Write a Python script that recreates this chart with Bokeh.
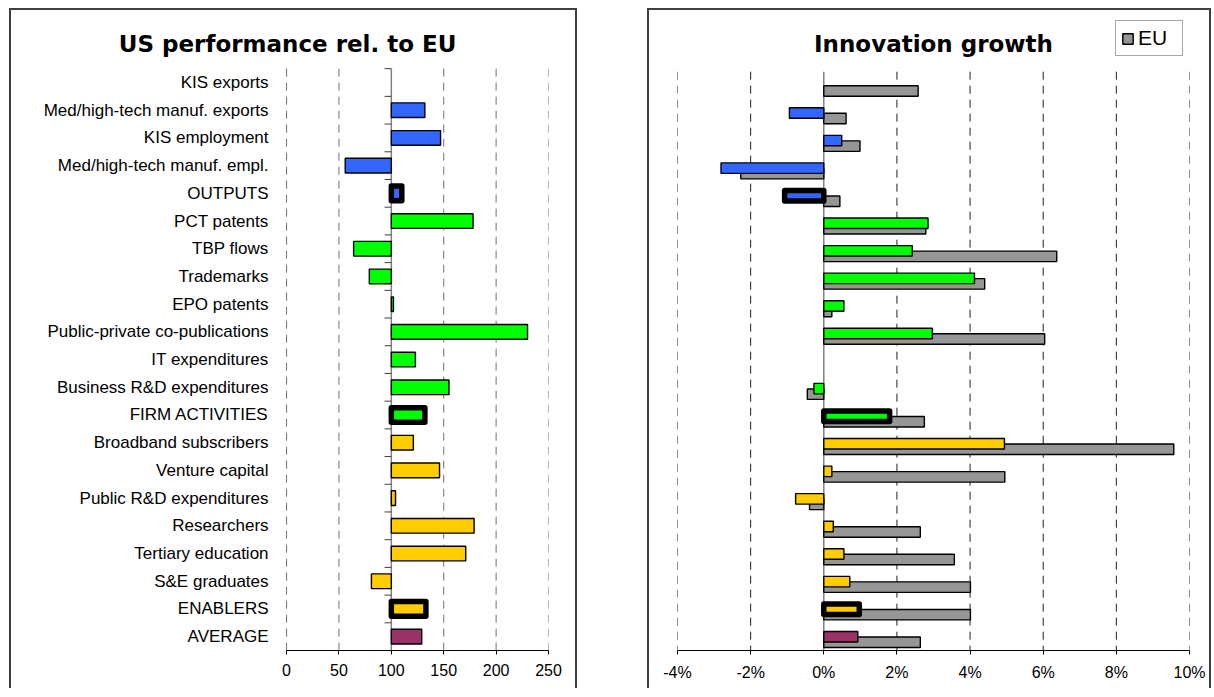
from bokeh.plotting import figure
from bokeh.models import (Range1d, Legend, LegendItem, Label,
                          ColumnDataSource, FixedTicker, PrintfTickFormatter, Spacer)
from bokeh.transform import dodge
from bokeh.core.properties import value
from bokeh.layouts import row, column
from bokeh.embed import file_html
from bokeh.resources import INLINE

# ---------------- data ----------------
categories = ["KIS exports", "Med/high-tech manuf. exports", "KIS employment",
              "Med/high-tech manuf. empl.", "OUTPUTS", "PCT patents", "TBP flows",
              "Trademarks", "EPO patents", "Public-private co-publications",
              "IT expenditures", "Business R&D expenditures", "FIRM ACTIVITIES",
              "Broadband subscribers", "Venture capital", "Public R&D expenditures",
              "Researchers", "Tertiary education", "S&E graduates", "ENABLERS",
              "AVERAGE"]
groups = (["outputs"] * 5 + ["firm"] * 8 + ["enablers"] * 7 + ["average"])
summary_rows = ["OUTPUTS", "FIRM ACTIVITIES", "ENABLERS"]

# US performance relative to EU (EU = 100)
us_rel_eu = [None, 132, 147, 56, 110, 178, 64, 79, 102, 230, 123, 155, 132,
             121, 146, 104, 179, 171, 81, 133, 129]
eu_reference = 100

# Innovation growth (%)
us_growth = [None, -0.94, 0.49, -2.81, -1.07, 2.85, 2.42, 4.12, 0.55, 2.97, None,
             -0.27, 1.80, 4.94, 0.22, -0.77, 0.26, 0.55, 0.71, 0.97, 0.93]
eu_growth = [2.58, 0.61, 0.99, -2.27, 0.44, 2.79, 6.37, 4.40, 0.22, 6.04, None,
             -0.45, 2.75, 9.57, 4.95, -0.39, 2.64, 3.57, 4.01, 4.01, 2.64]

left_ticks = [0, 50, 100, 150, 200, 250]
right_ticks = [-4, -2, 0, 2, 4, 6, 8, 10]

group_colors = {"outputs": "#3366FF", "firm": "#00FF00",
                "enablers": "#FFCC00", "average": "#993366"}
eu_color = "#969696"

LABEL_FONT = "Liberation Sans"
TITLE_FONT = "DejaVu Sans"
BORDER = {"border-top": "2px solid #404040", "border-left": "2px solid #404040",
          "border-right": "2px solid #404040"}

n = len(categories)
rows_idx = list(range(n))
FRAME_H = 632          # frame also holds the title / legend area above the bars


def make_chart(x_start, ticks, frame_w, mb_left, mb_right, row_px, grid_color,
               axis_at, title, title_x):
    pad_rows = (FRAME_H - n * row_px) / row_px
    p = figure(y_range=Range1d(n - 0.5, -0.5 - pad_rows),
               x_range=Range1d(x_start, ticks[-1]),
               frame_width=frame_w, frame_height=FRAME_H,
               min_border_left=mb_left, min_border_right=mb_right,
               min_border_top=6, min_border_bottom=40,
               output_backend="svg", toolbar_location=None)
    p.outline_line_color = None
    p.background_fill_color = "white"
    p.border_fill_color = "white"
    p.xgrid.grid_line_color = None
    p.ygrid.grid_line_color = None
    p.yaxis.visible = False
    p.styles = BORDER
    p.xaxis.ticker = FixedTicker(ticks=ticks)
    p.xaxis.bounds = (ticks[0], ticks[-1])
    p.xaxis.axis_line_color = "black"
    p.xaxis.axis_line_width = 1.2
    p.xaxis.major_tick_line_color = "black"
    p.xaxis.major_tick_out = 4
    p.xaxis.major_tick_in = 0
    p.xaxis.minor_tick_line_color = None
    p.xaxis.major_label_text_font = LABEL_FONT
    p.xaxis.major_label_text_font_size = "16px"
    p.xaxis.major_label_text_color = "black"
    p.xaxis.major_label_standoff = 9
    # dashed grid lines limited to the rows, solid value axis line
    gt = [t for t in ticks if t != axis_at]
    p.segment(x0=gt, x1=gt, y0=-0.5, y1=n - 0.5,
              line_color=grid_color, line_width=1, line_dash="8 6")
    p.segment(x0=[axis_at], x1=[axis_at], y0=-0.5, y1=n - 0.5,
              line_color="#808080", line_width=1.5)
    p.add_layout(Label(x=title_x, y=-0.5 - pad_rows + 27 / row_px, text=title,
                       text_align="center", text_baseline="middle",
                       text_font=TITLE_FONT, text_font_style="bold",
                       text_font_size="23px", text_color="black"))
    return p


def split(values):
    normal = dict(y=[], val=[], color=[])
    summ = dict(y=[], val=[], color=[])
    for i, (c, g, v) in enumerate(zip(categories, groups, values)):
        if v is None:
            continue
        d = summ if c in summary_rows else normal
        d["y"].append(i)
        d["val"].append(v)
        d["color"].append(group_colors[g])
    return ColumnDataSource(normal), ColumnDataSource(summ)


# ---------------- left chart ----------------
# frame spans the label column too: 273 px left of the value 0, 1.04 px per unit
left_px_per_unit = 260 / 250
left = make_chart(-273 / left_px_per_unit, left_ticks, 533, 0, 31, 580 / n,
                  "#707070", eu_reference, "US performance rel. to EU", 1)

left.text(x=0, y=rows_idx, text=categories, x_offset=-18,
          text_align="right", text_baseline="middle",
          text_font=value(LABEL_FONT), text_font_size="17px", text_color="black")

tick_src = ColumnDataSource(dict(y=rows_idx))
left.segment(x0=eu_reference - 6.5, x1=eu_reference,
             y0=dodge("y", -0.5), y1=dodge("y", -0.5),
             source=tick_src, line_color="#404040", line_width=1)

ln, ls = split(us_rel_eu)
left.hbar(y="y", left=eu_reference, right="val", height=0.53, source=ln,
          fill_color="color", line_color="black", line_width=1.4)
left.hbar(y="y", left=eu_reference, right="val", height=0.53, source=ls,
          fill_color="color", line_color="black", line_width=5.5,
          line_join="round")

# ---------------- right chart ----------------
right = make_chart(-4, right_ticks, 508, 28, 24, 577 / n, "#202020",
                   0, "Innovation growth", 3)
right.xaxis.formatter = PrintfTickFormatter(format="%d%%")

eu_src = ColumnDataSource(dict(
    y=[i for i, v in enumerate(eu_growth) if v is not None],
    val=[v for v in eu_growth if v is not None]))
eu_r = right.hbar(y=dodge("y", 0.2), left=0, right="val",
                  height=0.38, source=eu_src, fill_color=eu_color,
                  line_color="black", line_width=1.4)
rn, rs = split(us_growth)
right.hbar(y="y", left=0, right="val", height=0.38, source=rn,
           fill_color="color", line_color="black", line_width=1.4)
right.hbar(y="y", left=0, right="val", height=0.38, source=rs,
           fill_color="color", line_color="black", line_width=5.5,
           line_join="round")

legend = Legend(items=[LegendItem(label="EU", renderers=[eu_r])],
                location=(438, 594), orientation="vertical",
                label_text_font=LABEL_FONT, label_text_font_size="21px",
                label_text_color="black", glyph_width=13, glyph_height=13,
                label_standoff=4, label_width=39, label_height=24,
                padding=5, margin=0, spacing=0,
                border_line_color="#505050", border_line_width=1,
                background_fill_color="white", background_fill_alpha=1)
right.add_layout(legend)

layout = column(Spacer(height=8),
                row(Spacer(width=9), left, Spacer(width=70), right, spacing=0),
                spacing=0)

open("out.html", "w").write(file_html(layout, INLINE))
